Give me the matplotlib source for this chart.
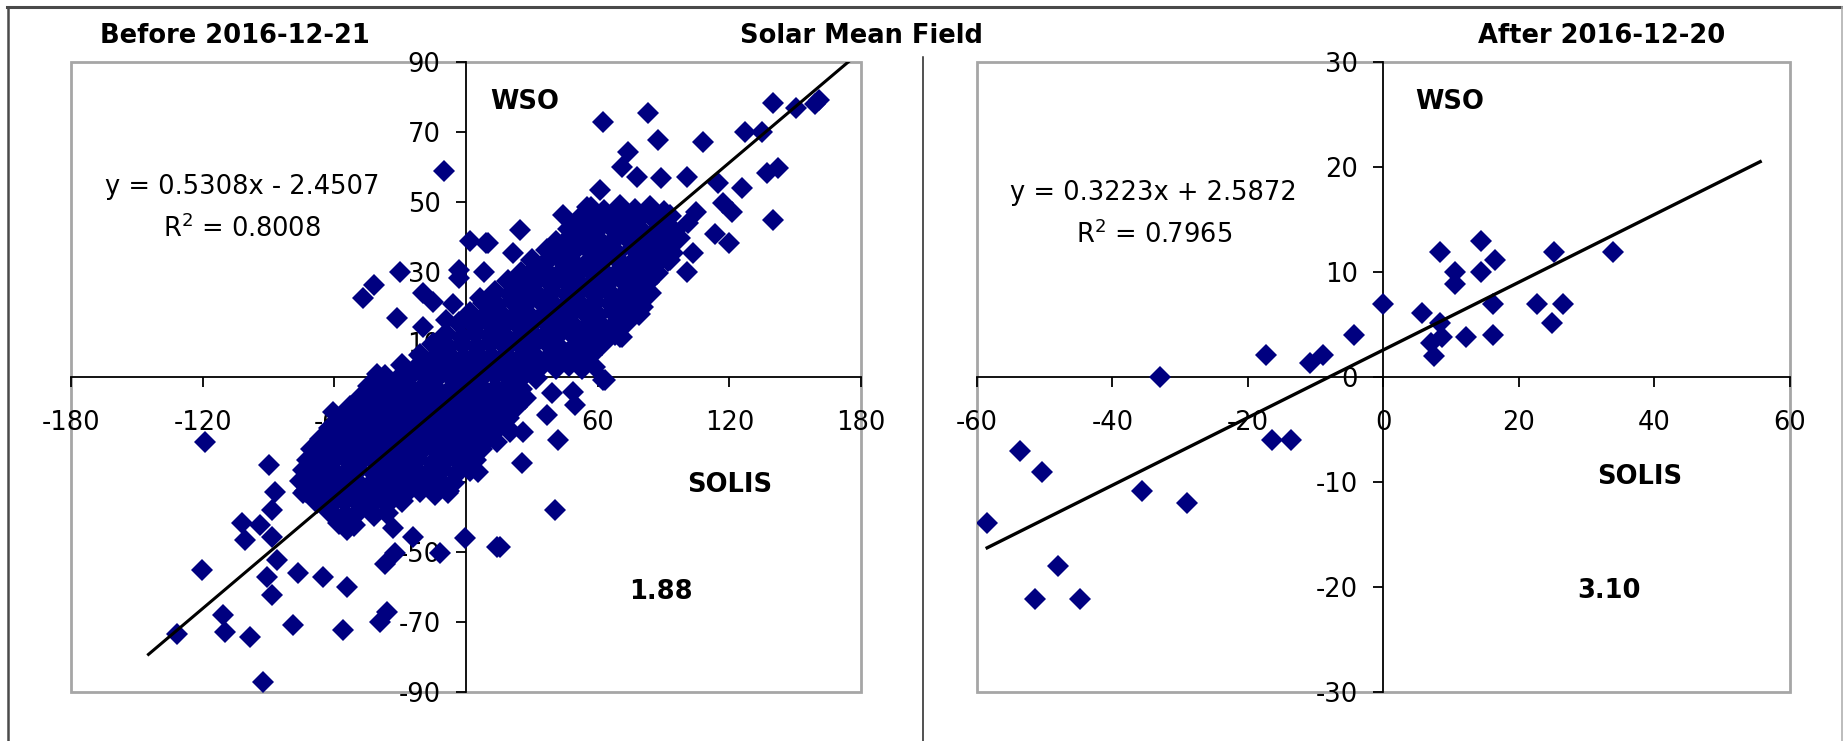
import matplotlib
matplotlib.use("Agg")
import matplotlib.pyplot as plt
from matplotlib.lines import Line2D
from matplotlib.patches import Rectangle
import numpy as np

# ---------------- data ----------------
# Before 2016-12-21 : dense core of the cloud (SOLIS, WSO)
before_core = [
    (57, 48.3), (63, 47.5), (70, 48.8), (77, 47.8), (84, 48.5), (90, 47.2),
    (52, 45.4), (59, 44.6), (66, 45.8), (72, 44.3), (79, 45.5), (86, 44.8), (93, 45.9),
    (47, 42.3), (54, 41.5), (61, 42.8), (68, 41.7), (74, 42.5), (81, 41.2), (88, 42.6), (95, 41.8),
    (41, 38.6), (47, 39.7), (54, 38.4), (60, 39.3), (67, 38.8), (73, 39.9), (80, 38.5), (86, 39.4), (92, 38.7), (97, 39.6),
    (37, 36.2), (44, 35.4), (50, 36.7), (57, 35.8), (63, 36.4), (69, 35.3), (76, 36.9), (82, 35.6), (88, 36.3), (94, 35.5),
    (30, 33.4), (36, 32.6), (43, 33.8), (49, 32.5), (56, 33.1), (62, 32.8), (69, 33.6), (75, 32.4), (81, 33.3), (87, 32.7), (92, 33.5),
    (25, 29.6), (31, 30.5), (38, 29.3), (44, 30.7), (51, 29.8), (57, 30.4), (64, 29.5), (70, 30.6), (76, 29.4), (82, 30.2), (87, 29.7),
    (19, 27.3), (26, 26.6), (32, 27.5), (39, 26.4), (45, 27.8), (52, 26.7), (58, 27.2), (64, 26.3), (71, 27.6), (77, 26.5), (83, 27.1),
    (13, 24.4), (20, 23.6), (26, 24.7), (33, 23.5), (39, 24.2), (46, 23.8), (52, 24.6), (59, 23.4), (65, 24.3), (72, 23.7), (78, 24.5), (84, 23.9),
    (8, 21.2), (14, 20.5), (21, 21.6), (27, 20.7), (34, 21.4), (40, 20.6), (47, 21.5), (53, 20.4), (59, 21.3), (66, 20.8), (72, 21.7), (78, 20.6),
    (2, 18.3), (9, 17.6), (15, 18.6), (22, 17.4), (28, 18.4), (35, 17.7), (41, 18.5), (47, 17.3), (54, 18.2), (60, 17.8), (67, 18.7), (73, 17.5), (79, 18.1),
    (-3, 15.4), (4, 14.6), (10, 15.7), (17, 14.5), (23, 15.3), (29, 14.8), (36, 15.6), (42, 14.4), (48, 15.5), (55, 14.7), (61, 15.2), (67, 14.6), (73, 15.4),
    (-9, 12.3), (-2, 11.5), (4, 12.6), (11, 11.7), (17, 12.4), (24, 11.4), (30, 12.5), (36, 11.8), (43, 12.7), (49, 11.6), (55, 12.2), (62, 11.5), (68, 12.4),
    (-15, 9.4), (-8, 8.6), (-2, 9.5), (5, 8.7), (11, 9.6), (18, 8.5), (24, 9.3), (30, 8.8), (37, 9.7), (43, 8.4), (50, 9.2), (56, 8.7), (62, 9.5),
    (-21, 6.3), (-14, 5.6), (-8, 6.5), (-1, 5.4), (5, 6.6), (12, 5.7), (18, 6.4), (25, 5.5), (31, 6.2), (38, 5.8), (44, 6.7), (50, 5.6), (57, 6.3),
    (-29, 3.4), (-23, 2.6), (-16, 3.5), (-10, 2.7), (-4, 3.6), (3, 2.5), (9, 3.3), (15, 2.8), (22, 3.7), (28, 2.4), (34, 3.2), (41, 2.7), (47, 3.5), (53, 2.6),
    (-37, 0.3), (-31, -0.5), (-25, 0.6), (-18, -0.4), (-12, 0.5), (-6, -0.6), (1, 0.4), (7, -0.3), (13, 0.7), (20, -0.5), (26, 0.2), (32, -0.4),
    (-44, -2.7), (-38, -3.5), (-31, -2.5), (-25, -3.4), (-19, -2.6), (-13, -3.6), (-6, -2.8), (0, -3.3), (6, -2.4), (13, -3.5), (19, -2.7), (25, -3.4),
    (-48, -5.6), (-42, -6.4), (-36, -5.5), (-29, -6.6), (-23, -5.7), (-17, -6.3), (-10, -5.4), (-4, -6.5), (2, -5.8), (9, -6.2), (15, -5.5), (21, -6.6), (27, -5.9),
    (-53, -8.7), (-47, -9.5), (-40, -8.5), (-34, -9.4), (-28, -8.6), (-21, -9.6), (-15, -8.8), (-9, -9.3), (-2, -8.4), (4, -9.5), (10, -8.7), (17, -9.2), (23, -8.5),
    (-57, -11.6), (-51, -12.5), (-45, -11.7), (-38, -12.4), (-32, -11.5), (-26, -12.6), (-19, -11.8), (-13, -12.3), (-7, -11.4), (0, -12.5), (6, -11.7), (12, -12.4), (19, -11.6),
    (-62, -14.7), (-56, -15.4), (-49, -14.5), (-43, -15.6), (-37, -14.8), (-30, -15.3), (-24, -14.6), (-18, -15.5), (-11, -14.7), (-5, -15.4), (1, -14.5), (8, -15.6), (14, -14.8), (20, -15.3),
    (-66, -17.6), (-60, -18.4), (-53, -17.5), (-47, -18.6), (-41, -17.8), (-34, -18.3), (-28, -17.4), (-22, -18.5), (-15, -17.7), (-9, -18.4), (-3, -17.6), (4, -18.5), (10, -17.7),
    (-70, -20.7), (-63, -21.5), (-57, -20.6), (-51, -21.4), (-44, -20.5), (-38, -21.6), (-32, -20.8), (-25, -21.3), (-19, -20.4), (-13, -21.5), (-6, -20.7), (0, -21.4), (7, -20.6),
    (-72, -23.6), (-66, -24.5), (-60, -23.7), (-53, -24.3), (-47, -23.5), (-41, -24.6), (-34, -23.8), (-28, -24.4), (-22, -23.5), (-15, -24.6), (-9, -23.7), (-3, -24.3), (4, -23.6),
    (-74, -26.5), (-68, -27.4), (-61, -26.6), (-55, -27.5), (-49, -26.7), (-42, -27.3), (-36, -26.4), (-30, -27.6), (-23, -26.8), (-17, -27.2), (-11, -26.5), (-4, -27.4), (2, -26.7),
    (-75, -29.6), (-69, -30.4), (-62, -29.5), (-56, -30.6), (-50, -29.7), (-43, -30.3), (-37, -29.4), (-31, -30.5), (-24, -29.8), (-18, -30.2), (-12, -29.6), (-6, -30.4),
    (-73, -32.7), (-66, -33.4), (-60, -32.5), (-54, -33.6), (-47, -32.8), (-41, -33.3), (-35, -32.6), (-28, -33.5), (-21, -32.7), (-14, -33.4), (-8, -32.6),
    (-68, -35.6), (-61, -36.4), (-55, -35.5), (-48, -36.6), (-42, -35.7), (-36, -36.3), (-29, -35.4),
    (-62, -38.7), (-55, -39.4), (-49, -38.6), (-42, -39.5), (-36, -38.8),
    (-58, -41.6), (-51, -42.4),
]

# Before 2016-12-21 : scattered points around the core (SOLIS, WSO)
before_outer = [
    (-10, 59), (2, 39), (9, 38.2), (-30, 30.1), (-3, 30.6), (8, 30.1), (-42, 26.3), (-47, 22.5),
    (-19.5, 23.9), (-15, 21.5), (-31.6, 16.8), (-3, 28.3), (-19.5, 14.4), (-9, 16.3), (-6, 21),
    (6.4, 22.6), (-40.7, 1.0),
    (62.6, 72.9), (83, 75.3), (87.6, 67.7), (108, 67.2), (74, 64.4), (71, 60.1), (78, 57.2),
    (89, 56.8), (100.5, 57.2), (140, 78.2), (150.6, 76.8), (161, 79.1), (159, 78), (127, 70.1),
    (135, 70.1), (137, 58.2), (142, 59.6), (140, 44.9), (125.6, 53.9), (115, 55.3), (117, 49.6),
    (121, 47.2), (120, 38.2), (113.4, 41), (100.5, 30.1), (103.6, 35.3), (105, 47.2), (101.3, 43.9),
    (93, 33.4), (61, 53.4), (55, 48.7), (44.3, 46.3), (24.6, 42), (10.2, 38.2), (21.5, 35.3),
    (50.4, 42), (80.8, 20.1), (72.4, 15.3), (71, 11.5), (62.6, -0.9), (45.9, 6.8),
    (-118.9, -18.5), (-90, -25.1), (-87, -32.8), (-88.5, -38), (-102.2, -41.8), (-100.7, -46.6),
    (-93.8, -42.3), (-88.5, -45.6), (-120.4, -55.1), (-86.2, -52.3), (-90.8, -57), (-88.5, -62.3),
    (-76.4, -56.1), (-65, -57), (-54.3, -59.9), (-110.6, -68), (-109.8, -72.8), (-98.4, -74.2),
    (-131.9, -73.3), (-78.7, -70.9), (-55.9, -72.3), (-92.3, -87.1), (-36.1, -67.1), (-39.2, -69.9),
    (-36.9, -53.3), (-32.3, -50.4), (-33.1, -43.2), (-24, -45.6), (-11.8, -50.4), (-0.5, -46.1),
    (14, -48.5), (-8, -33.2), (-54.3, -43.7), (-52.8, -40.9), (-60.4, -9.9), (-74.1, -33.2),
    (-69.6, -23.7),
    (63.3, -0.9), (48.9, -4.2), (49.7, -8), (39, -4.7), (36.8, -10.9), (42, -18), (25.4, -24.7),
    (40.5, -38), (15.5, -48.5), (5.6, -27), (14, -18.5), (26.1, -15.6), (70.2, 11.5), (58.8, 2.9),
]

# After 2016-12-20 (SOLIS, WSO)
after_solis = [0, 5.7, 8.3, 7.0, 8.7, 7.4, 12.2, 16.1, 16.1, 16.5, 14.4, 14.4, 10.5, 10.5, 8.3,
               22.6, 26.5, 24.8, 25.2, 33.9, -4.3, -9.0, -10.8, -17.3, -33.0, -16.4, -13.6,
               -53.7, -50.4, -35.6, -29.0, -58.5, -48.1, -51.4, -44.8]
after_wso = [7.0, 6.1, 5.1, 3.2, 3.8, 2.0, 3.8, 4.0, 7.0, 11.1, 13.0, 10.0, 10.0, 8.9, 11.9,
             7.0, 7.0, 5.1, 11.9, 11.9, 4.0, 2.1, 1.3, 2.1, 0.0, -6.0, -6.0,
             -7.0, -9.0, -10.9, -12.0, -13.9, -18.0, -21.1, -21.1]

# trendlines
before_slope, before_intercept = 0.5308, -2.4507
before_trend_x = [-144.7, 175.0]
after_slope, after_intercept = 0.3223, 2.5872
after_trend_x = [-58.5, 55.6]

before_xticks = [-180, -120, -60, 0, 60, 120, 180]
before_yticks = [-90, -70, -50, -30, -10, 10, 30, 50, 70, 90]
after_xticks = [-60, -40, -20, 0, 20, 40, 60]
after_yticks = [-30, -20, -10, 0, 10, 20, 30]

# ---------------- figure ----------------
W, H = 1843, 741
plt.rcParams['font.family'] = ['DejaVu Sans']
fig = plt.figure(figsize=(W / 100, H / 100), dpi=100)
fig.patch.set_facecolor('white')

FS = 18.5
NAVY = '#000080'


def fx(x):
    return x / W


def fy(y):
    return 1 - y / H


def setup(ax, xlim, ylim, xticks, yticks):
    ax.set_xlim(*xlim)
    ax.set_ylim(*ylim)
    ax.patch.set_visible(False)
    for s in ['top', 'right']:
        ax.spines[s].set_visible(False)
    ax.spines['left'].set_position(('data', 0))
    ax.spines['bottom'].set_position(('data', 0))
    for s in ['left', 'bottom']:
        ax.spines[s].set_linewidth(1.3)
        ax.spines[s].set_color('black')
        ax.spines[s].set_zorder(0.6)
    ax.set_xticks(xticks)
    ax.set_yticks(yticks)
    ax.set_xticklabels([str(v) for v in xticks])
    ax.set_yticklabels([str(v) for v in yticks])
    ax.tick_params(direction='out', length=7.5, width=1.3, labelsize=FS, colors='black')
    ax.tick_params(axis='x', pad=16.5)
    ax.tick_params(axis='y', pad=10.8)
    frame = Rectangle((0, 0), 1, 1, transform=ax.transAxes, fill=False,
                      edgecolor='#a6a6a6', lw=2.0, zorder=0.4, clip_on=False)
    ax.add_patch(frame)


axL = fig.add_axes([fx(71), fy(692), 790 / W, 630 / H])
axR = fig.add_axes([fx(977), fy(692), 813 / W, 630 / H])
setup(axL, (-180, 180), (-90, 90), before_xticks, before_yticks)
setup(axR, (-60, 60), (-30, 30), after_xticks, after_yticks)

cx = [p[0] for p in before_core]
cy = [p[1] for p in before_core]
ox = [p[0] for p in before_outer]
oy = [p[1] for p in before_outer]
axL.plot(cx, cy, linestyle='none', marker='D', ms=12.6, mew=0, color=NAVY, zorder=2)
axL.plot(ox, oy, linestyle='none', marker='D', ms=11.4, mew=0, color=NAVY, zorder=2)
axR.plot(after_solis, after_wso, linestyle='none', marker='D', ms=11.4, mew=0, color=NAVY, zorder=2)

tx = np.array(before_trend_x)
axL.plot(tx, before_slope * tx + before_intercept, color='black', lw=2.2, zorder=2.2)
tx = np.array(after_trend_x)
axR.plot(tx, after_slope * tx + after_intercept, color='black', lw=2.4, zorder=2.2)

bold = dict(fontsize=FS, fontweight='bold', color='black', va='baseline')
norm = dict(fontsize=FS, color='black', va='baseline', ha='center')

axL.text(10.9, 76.5, 'WSO', ha='left', **bold)
axL.text(100.7, -33.0, 'SOLIS', ha='left', **bold)
axL.text(74.3, -63.5, '1.88', ha='left', **bold)
axL.text(-102, 52.2, 'y = 0.5308x - 2.4507', **norm)
axL.text(-102, 39.9, r'R$^{2}$ = 0.8008', **norm)

axR.text(4.7, 25.5, 'WSO', ha='left', **bold)
axR.text(31.6, -10.2, 'SOLIS', ha='left', **bold)
axR.text(28.6, -21.0, '3.10', ha='left', **bold)
axR.text(-33.9, 16.9, 'y = 0.3223x + 2.5872', **norm)
axR.text(-33.8, 12.8, r'R$^{2}$ = 0.7965', **norm)

fig.text(fx(235), fy(43.4), 'Before 2016-12-21', ha='center', **bold)
fig.text(fx(861.5), fy(43.4), 'Solar Mean Field', ha='center', **bold)
fig.text(fx(1602), fy(43.4), 'After 2016-12-20', ha='center', **bold)

# outer border and separator
fig.add_artist(Line2D([fx(8), fx(8)], [fy(6.5), fy(741)], color='#4a4a4a', lw=1.8))
fig.add_artist(Line2D([fx(7), fx(1843)], [fy(6.5), fy(6.5)], color='#4a4a4a', lw=2.2))
fig.add_artist(Line2D([fx(1841.5), fx(1841.5)], [fy(6.5), fy(741)], color='#b0b0b0', lw=1.2))
fig.add_artist(Line2D([fx(923), fx(923)], [fy(57), fy(741)], color='#222222', lw=1.1))

fig.savefig('out.png', dpi=100, facecolor='white')
